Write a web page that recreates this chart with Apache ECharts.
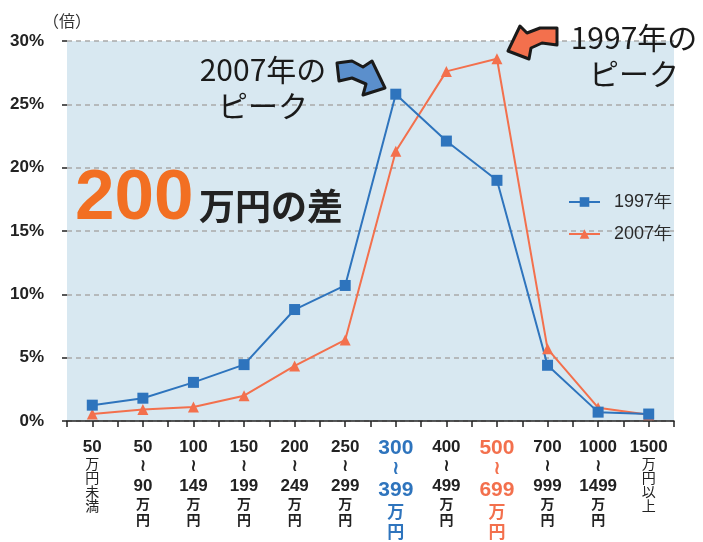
<!DOCTYPE html>
<html>
<head>
<meta charset="utf-8">
<script src="https://cdn.jsdelivr.net/npm/echarts@6/dist/echarts.min.js"></script>
<style>
  html, body { margin: 0; padding: 0; background: #fff; }
  #main { width: 703px; height: 542px; }
</style>
</head>
<body>
<div id="main"></div>
<script>
// 所得階層（カテゴリ）
const categories = ['50万円未満', '50～90万円', '100～149万円', '150～199万円', '200～249万円', '250～299万円',
  '300～399万円', '400～499万円', '500～699万円', '700～999万円', '1000～1499万円', '1500万円以上']
// 軸ラベル：上の数字 / 下の数字
const tickTop = ['50', '50', '100', '150', '200', '250', '300', '400', '500', '700', '1000', '1500']
const tickBottom = ['', '90', '149', '199', '249', '299', '399', '499', '699', '999', '1499', '']
const tickTail = ['万円未満', '', '', '', '', '', '', '', '', '', '', '万円以上']

// 系列データ（%）
const series1997 = [1.25, 1.8, 3.05, 4.45, 8.8, 10.7, 25.8, 22.1, 19.0, 4.4, 0.7, 0.55]
const series2007 = [0.55, 0.9, 1.1, 2.0, 4.35, 6.4, 21.3, 27.6, 28.6, 5.7, 1.05, 0.5]

// y軸目盛り
const yTicks = [0, 5, 10, 15, 20, 25, 30]

const BLUE = '#2e74bd'
const ORANGE = '#f3704d'
const LATIN = 'Liberation Sans'
const JP = 'Noto Sans CJK JP'

const chart = echarts.init(document.getElementById('main'))

// x軸ラベルを縦書き風に組み立てる
function xLabel (value, idx) {
  const sfx = idx === 6 ? 'B' : (idx === 8 ? 'O' : '')
  const lines = ['{n' + sfx + '|' + tickTop[idx] + '}']
  if (tickBottom[idx]) {
    lines.push('{t' + sfx + '|≀}')
    lines.push('{n' + sfx + '|' + tickBottom[idx] + '}')
    lines.push('{k' + sfx + '|万}')
    lines.push('{k' + sfx + '|円}')
  } else {
    tickTail[idx].split('').forEach(c => lines.push('{s|' + c + '}'))
  }
  return lines.join('\n')
}

const rich = {
  n: { fontFamily: LATIN, fontSize: 17, fontWeight: 'bold', color: '#222', lineHeight: 20 },
  t: { fontFamily: 'DejaVu Sans', fontSize: 17, fontWeight: 'bold', color: '#222', lineHeight: 19 },
  k: { fontFamily: JP, fontSize: 14, fontWeight: 'bold', color: '#222', lineHeight: 16 },
  s: { fontFamily: JP, fontSize: 14, color: '#222', lineHeight: 14 },
  nB: { fontFamily: LATIN, fontSize: 21, fontWeight: 'bold', color: BLUE, lineHeight: 23 },
  tB: { fontFamily: 'DejaVu Sans', fontSize: 19, fontWeight: 'bold', color: BLUE, lineHeight: 19 },
  kB: { fontFamily: JP, fontSize: 17, fontWeight: 'bold', color: BLUE, lineHeight: 20 },
  nO: { fontFamily: LATIN, fontSize: 21, fontWeight: 'bold', color: ORANGE, lineHeight: 23 },
  tO: { fontFamily: 'DejaVu Sans', fontSize: 19, fontWeight: 'bold', color: ORANGE, lineHeight: 19 },
  kO: { fontFamily: JP, fontSize: 17, fontWeight: 'bold', color: ORANGE, lineHeight: 20 }
}

const optionData = {
  animation: false,
  backgroundColor: '#fff',
  grid: {
    left: 67,
    right: 29,
    top: 41,
    bottom: 121,
    show: true,
    backgroundColor: '#d8e8f1',
    borderWidth: 0
  },
  legend: {
    orient: 'vertical',
    left: 563,
    top: 188,
    itemWidth: 31,
    itemHeight: 12,
    itemGap: 14,
    data: ['1997年', '2007年'],
    textStyle: { fontFamily: LATIN, fontSize: 18, color: '#2a2a2a', padding: [0, 0, 0, 9] }
  },
  xAxis: [
    {
      type: 'category',
      position: 'bottom',
      data: categories,
      boundaryGap: true,
      axisLine: { lineStyle: { color: '#222', width: 1.5 } },
      axisTick: { show: true, length: 6, alignWithLabel: false, lineStyle: { color: '#222', width: 1.5 } },
      axisLabel: { interval: 0, margin: 16, formatter: xLabel, rich: rich }
    },
    {
      type: 'category',
      position: 'bottom',
      data: categories,
      boundaryGap: true,
      axisLine: { show: false },
      axisTick: { show: true, length: 6, alignWithLabel: true, interval: 0, lineStyle: { color: '#222', width: 1.5 } },
      axisLabel: { show: false },
      splitLine: { show: false }
    }
  ],
  yAxis: {
    type: 'value',
    min: yTicks[0],
    max: yTicks[yTicks.length - 1],
    interval: 5,
    name: '（倍）',
    nameGap: 12,
    nameTextStyle: { fontFamily: JP, fontSize: 16, color: '#333' },
    axisLine: { show: false },
    axisTick: { show: true, length: 5, lineStyle: { color: '#222', width: 1.5 } },
    axisLabel: {
      margin: 23,
      fontFamily: LATIN,
      fontSize: 17,
      fontWeight: 'bold',
      color: '#222',
      formatter: '{value}%'
    },
    splitLine: { lineStyle: { color: '#a9a9a9', width: 1.5, type: [5, 4] } }
  },
  series: [
    {
      name: '2007年',
      type: 'line',
      data: series2007,
      symbol: 'triangle',
      symbolSize: 11,
      color: ORANGE,
      lineStyle: { width: 2 }
    },
    {
      name: '1997年',
      type: 'line',
      data: series1997,
      symbol: 'rect',
      symbolSize: 11,
      color: BLUE,
      lineStyle: { width: 2 }
    }
  ],
  graphic: [
    // 200万円の差
    {
      type: 'text', left: 75, top: 164, z: 10,
      style: { text: '200', font: 'bold 71px "Liberation Sans"', fill: '#f26f22' }
    },
    {
      type: 'text', left: 199, top: 188, z: 10,
      style: { text: '万円の差', font: 'bold 36px "Noto Sans CJK JP"', fill: '#222' }
    },
    // 2007年のピーク（手書き風注記）
    {
      type: 'text', x: 263, y: 52, z: 10,
      style: { text: '2007年の\nピーク', font: '30px "Noto Sans CJK JP"', lineHeight: 36, fill: '#1a1a1a', align: 'center' }
    },
    {
      type: 'text', x: 634, y: 20, z: 10,
      style: { text: '1997年の\nピーク', font: '30px "Noto Sans CJK JP"', lineHeight: 36, fill: '#1a1a1a', align: 'center' }
    },
    // 矢印
    {
      type: 'polygon', z: 10,
      shape: { points: [[337, 63], [352, 61], [363, 67], [372, 61], [385, 88], [363, 95], [366, 84], [352, 78], [339, 81]] },
      style: { fill: '#5b8fcc', stroke: '#1a1a1a', lineWidth: 3, lineJoin: 'round' }
    },
    {
      type: 'polygon', z: 10,
      shape: { points: [[508, 51], [520, 26], [527, 33], [540, 28], [557, 28], [557, 45], [542, 43], [531, 48], [529, 59]] },
      style: { fill: '#f3704d', stroke: '#1a1a1a', lineWidth: 3, lineJoin: 'round' }
    }
  ]
}

chart.setOption(optionData)
</script>
</body>
</html>
